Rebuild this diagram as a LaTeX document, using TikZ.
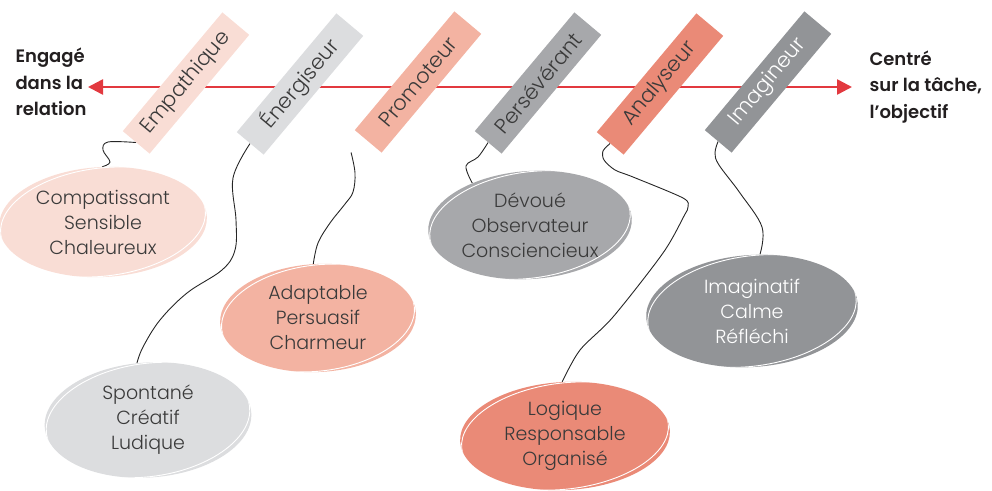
\documentclass[tikz,border=0pt]{standalone}
\usepackage{fontspec}
\setmainfont{Poppins}[UprightFont=* Light, BoldFont=* SemiBold]
\usetikzlibrary{arrows.meta,shapes.geometric}
\pgfdeclarelayer{back}
\pgfsetlayers{back,main}
\definecolor{cEmp}{HTML}{F9DDD5}
\definecolor{cEne}{HTML}{DCDDDF}
\definecolor{cPro}{HTML}{F3B3A2}
\definecolor{cPer}{HTML}{A7A8AB}
\definecolor{cAna}{HTML}{EA8A77}
\definecolor{cIma}{HTML}{929497}
\definecolor{ink}{HTML}{3A3A3A}
\definecolor{labelink}{HTML}{231F20}
\definecolor{arrowred}{HTML}{E2393F}
% name, x, y, width, height, tilt, colour
\newcommand\blob[7]{%
  \node[ellipse, inner sep=0pt, minimum width=#4pt, minimum height=#5pt, rotate=#6, fill=#7] (#1) at (#2,#3) {};
  \begin{scope}
    \clip[rotate around={#6:(#1.center)}] (#1.center) ellipse [x radius=#4pt/2, y radius=#5pt/2];
    \draw[white, line width=0.9pt, rotate around={#6+4:(#1.center)}] (#1.center) ellipse [x radius=#4pt/2-1pt, y radius=#5pt/2-1pt];
  \end{scope}}
\begin{document}
\begin{tikzpicture}[x=1pt,y=-1pt,
  tag/.style={rectangle, minimum width=155pt, minimum height=35pt, inner sep=0pt, rotate=50,
    font=\fontsize{21}{23}\selectfont, text=ink},
  blobtext/.style={align=center, font=\fontsize{19}{25}\selectfont, text=ink},
  conn/.style={black!85, line width=0.9pt},
  side/.style={align=left, font=\bfseries\fontsize{18}{26.5}\selectfont, text=labelink}]
\useasboundingbox (0,0) rectangle (992,490);

% side labels and axis
\node[side, anchor=west] (lab1) at (12,82) {Engagé\\dans la\\relation};
\node[side, anchor=west] (lab2) at (866,87) {Centré\\sur la tâche,\\l’objectif};
\coordinate (aL) at (88,87);
\coordinate (aR) at (852,87);

% tags
\node[tag, fill=cEmp] (E1) at (186,83) {Empathique};
\node[tag, fill=cEne] (E2) at (300,84) {Énergiseur};
\node[tag, fill=cPro] (E3) at (418,82) {Promoteur};
\node[tag, fill=cPer] (E4) at (538,83) {Persévérant};
\node[tag, fill=cAna] (E5) at (660,84) {Analyseur};
\node[tag, fill=cIma, text=white] (E6) at (768,82) {Imagineur};

% blobs
\blob{e1}{103}{222}{208}{110}{3}{cEmp}
\blob{e2}{148}{420}{207}{115}{4}{cEne}
\blob{e3}{318}{318}{196}{108}{3}{cPro}
\blob{e4}{530}{225}{204}{108}{4}{cPer}
\blob{e5}{752}{311}{212}{112}{4}{cIma}
\blob{e6}{565}{436}{210}{108}{3}{cAna}

\node[blobtext] (t1) at (e1.center) {Compatissant\\Sensible\\Chaleureux};
\node[blobtext] (t2) at (e2.center) {Spontané\\Créatif\\Ludique};
\node[blobtext] (t3) at (e3.center) {Adaptable\\Persuasif\\Charmeur};
\node[blobtext] (t4) at (e4.center) {Dévoué\\Observateur\\Consciencieux};
\node[blobtext, text=white] (t5) at (e5.center) {Imaginatif\\Calme\\Réfléchi};
\node[blobtext] (t6) at (e6.center) {Logique\\Responsable\\Organisé};

\coordinate (pfree) at ([xshift=-17pt,yshift=-11pt]E3.west);

\begin{pgfonlayer}{back}
\draw[arrowred, line width=2.6pt, {Triangle[length=15pt,width=15pt]}-{Triangle[length=15pt,width=15pt]}] (aL) -- (aR);
\draw[conn] plot[smooth, tension=0.6] coordinates {(E1.west) (108,142) (103,150) (110,162) (e1.88)};
\draw[conn] plot[smooth, tension=0.6] coordinates {(E2.west) (233,178) (236,220) (235,250) (222,270) (187,293) (160,320) (143,347) (e2.97)};
\draw[conn] plot[smooth, tension=0.6] coordinates {(pfree) (355,173) (353,192) (345,204) (330,223) (318,243) (e3.92)};
\draw[conn] plot[smooth, tension=0.6] coordinates {(E4.west) (478,157) (466,166) (e4.140)};
\draw[conn] plot[smooth, tension=0.5] coordinates {(E5.west) (603,151) (604,160) (615,170) (633,177) (683,198) (688,207) (684,216) (663,253) (613,317) (580,350) (e6.90)};
\draw[conn] plot[smooth, tension=0.6] coordinates {(E6.west) (715,153) (719,165) (740,193) (762,227) (e5.78)};
\end{pgfonlayer}
\end{tikzpicture}
\end{document}
